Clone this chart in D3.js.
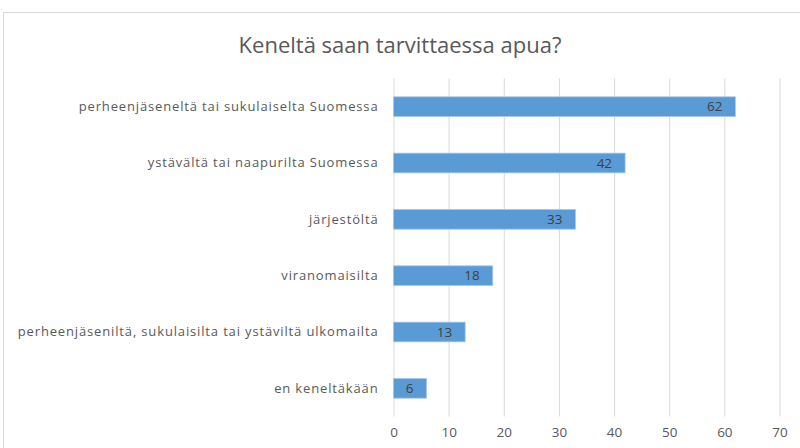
<!DOCTYPE html>
<html><head><meta charset="utf-8">
<script src="https://cdn.jsdelivr.net/npm/d3@7"></script>
<style>body{margin:0;background:#fff}svg{display:block}</style>
</head><body>
<script>
const title = "Keneltä saan tarvittaessa apua?";
const categories = [
  "perheenjäseneltä tai sukulaiselta Suomessa",
  "ystävältä tai naapurilta Suomessa",
  "järjestöltä",
  "viranomaisilta",
  "perheenjäseniltä, sukulaisilta tai ystäviltä ulkomailta",
  "en keneltäkään"
];
const values = [62, 42, 33, 18, 13, 6];
const xTicks = [0, 10, 20, 30, 40, 50, 60, 70];

const W = 800, H = 448;
const svg = d3.select("body").append("svg").attr("width", W).attr("height", H);
svg.append("rect").attr("x", 3.5).attr("y", 12.5).attr("width", 805).attr("height", 450)
  .attr("fill", "#fff").attr("stroke", "#d9d9d9");

const x = d3.scaleLinear().domain([0, 70]).range([393.5, 779.5]);
const y = d3.scaleBand().domain(categories).range([78.5, 416.5]).paddingInner(0.65).paddingOuter(0.325);

const font = "'Open Sans', 'Liberation Sans', sans-serif";

svg.append("text").attr("x", 400).attr("y", 53).attr("text-anchor", "middle")
  .attr("font-family", font).attr("font-size", 22).attr("fill", "#595959").text(title);

const xAxis = d3.axisBottom(x).tickValues(xTicks).tickSize(-(416.5 - 78.5)).tickPadding(11);
const gx = svg.append("g").attr("transform", "translate(0,416.5)").call(xAxis);
gx.select(".domain").remove();
gx.selectAll("line").attr("stroke", "#d9d9d9");
gx.selectAll("text").attr("font-family", font).attr("font-size", 13.5).attr("fill", "#595959");

svg.append("g").selectAll("rect").data(values).join("rect")
  .attr("x", x(0)).attr("y", (d, i) => y(categories[i]))
  .attr("width", d => x(d) - x(0)).attr("height", y.bandwidth())
  .attr("fill", "#5b9bd5").attr("stroke", "#a9c8ea").attr("stroke-width", 0.8);

svg.append("g").selectAll("text").data(values).join("text")
  .attr("x", d => x(d) - 13).attr("y", (d, i) => y(categories[i]) + y.bandwidth() / 2)
  .attr("dy", "0.35em").attr("text-anchor", "end")
  .attr("font-family", font).attr("font-size", 13.5).attr("fill", "#404040").text(d => d);

const yAxis = d3.axisLeft(y).tickSize(0).tickPadding(15);
const gy = svg.append("g").attr("transform", `translate(${x(0)},0)`).call(yAxis);
gy.select(".domain").remove();
gy.selectAll("text").attr("font-family", font).attr("font-size", 13)
  .attr("letter-spacing", 0.85).attr("fill", "#595959");
</script>
</body></html>
